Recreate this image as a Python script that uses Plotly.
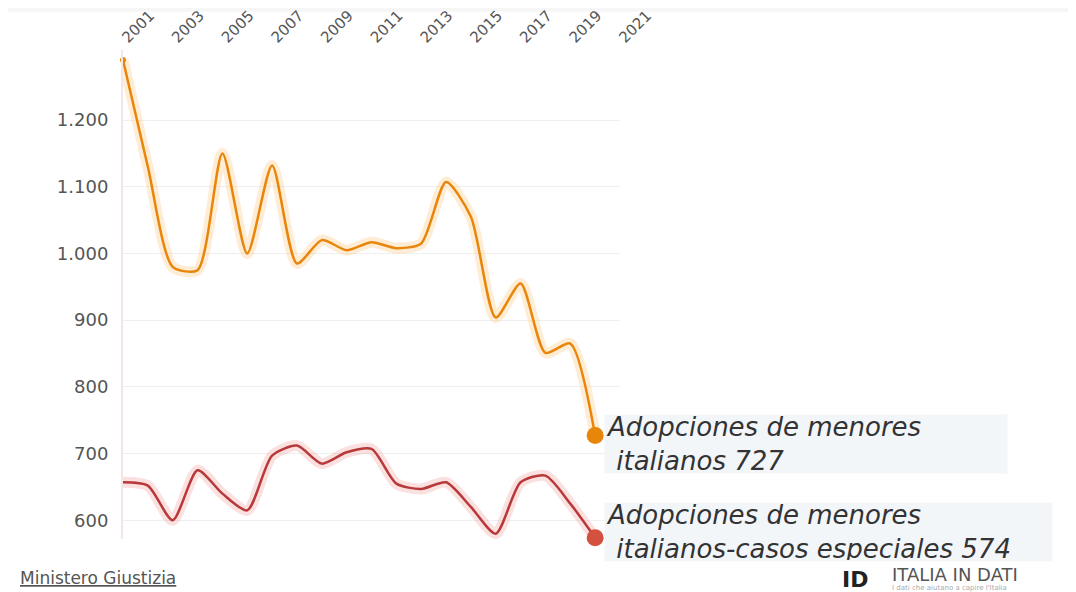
import plotly.graph_objects as go

years = list(range(2001, 2021))
adopciones = [1290, 1130, 980, 975, 1150, 1000, 1132, 985, 1020, 1005, 1017, 1008,
              1015, 1107, 1055, 904, 955, 851, 865, 727]
especiales = [657, 652, 600, 675, 640, 615, 697, 712, 685, 702, 707, 655,
              647, 657, 620, 580, 657, 667, 625, 574]
tick_years = list(range(2001, 2022, 2))
y_ticks = [600, 700, 800, 900, 1000, 1100, 1200]

name_a = "Adopciones de menores<br>&nbsp;italianos"
name_b = "Adopciones de menores<br>&nbsp;italianos-casos especiales"

orange = "#E8860C"
orange_glow = "rgba(255,195,120,0.32)"
red = "#B8393A"
red_glow = "rgba(240,145,145,0.28)"
red_dot = "#D4503F"

fig = go.Figure()

# glow
fig.add_trace(go.Scatter(x=years, y=adopciones, mode="lines",
                         line=dict(color=orange_glow, width=11, shape="spline", smoothing=0.7),
                         hoverinfo="skip", showlegend=False, cliponaxis=False))
fig.add_trace(go.Scatter(x=years, y=especiales, mode="lines",
                         line=dict(color=red_glow, width=11, shape="spline", smoothing=0.7),
                         hoverinfo="skip", showlegend=False, cliponaxis=False))
# main lines
fig.add_trace(go.Scatter(x=years, y=adopciones, mode="lines",
                         line=dict(color=orange, width=2.5, shape="spline", smoothing=0.7),
                         showlegend=False, cliponaxis=False))
fig.add_trace(go.Scatter(x=years, y=especiales, mode="lines",
                         line=dict(color=red, width=2.5, shape="spline", smoothing=0.7),
                         showlegend=False, cliponaxis=False))
# start dot
fig.add_trace(go.Scatter(x=years[:1], y=adopciones[:1], mode="markers",
                         marker=dict(color=orange, size=6), showlegend=False, cliponaxis=False))
# end dots
fig.add_trace(go.Scatter(x=years[-1:], y=adopciones[-1:], mode="markers",
                         marker=dict(color=orange, size=17), showlegend=False, cliponaxis=False))
fig.add_trace(go.Scatter(x=years[-1:], y=especiales[-1:], mode="markers",
                         marker=dict(color=red_dot, size=17), showlegend=False, cliponaxis=False))

label_font = dict(family="DejaVu Sans", size=26, color="#333333")
fig.add_annotation(x=years[-1], y=adopciones[-1], xref="x", yref="y",
                   text=f"<i>{name_a} {adopciones[-1]}</i>",
                   showarrow=False, xanchor="left", yanchor="middle", align="left",
                   xshift=9, yshift=-8, width=400, height=56,
                   bgcolor="#F3F6F9", font=label_font)
fig.add_annotation(x=years[-1], y=especiales[-1], xref="x", yref="y",
                   text=f"<i>{name_b} {especiales[-1]}</i>",
                   showarrow=False, xanchor="left", yanchor="middle", align="left",
                   xshift=9, yshift=6, width=445, height=56,
                   bgcolor="#F3F6F9", font=label_font)

# source
fig.add_annotation(xref="paper", yref="paper", x=-0.2113, y=-0.0804, xanchor="left", yanchor="middle",
                   text="<u>Ministero Giustizia</u>", showarrow=False,
                   font=dict(family="DejaVu Sans", size=17, color="#555555"))
# logo
fig.add_annotation(xref="paper", yref="paper", x=1.4427, y=-0.0825, xanchor="left", yanchor="middle",
                   text="<b>ID</b>", showarrow=False,
                   font=dict(family="DejaVu Sans", size=22, color="#222222"))
fig.add_annotation(xref="paper", yref="paper", x=1.543, y=-0.0720, xanchor="left", yanchor="middle",
                   text="ITALIA IN DATI", showarrow=False,
                   font=dict(family="DejaVu Sans", size=18, color="#555555"))
fig.add_annotation(xref="paper", yref="paper", x=1.543, y=-0.0995, xanchor="left", yanchor="middle",
                   text="I dati che aiutano a capire l'Italia", showarrow=False,
                   font=dict(family="DejaVu Sans", size=7, color="#AAAAAA"))

fig.update_layout(
    width=1068, height=584,
    margin=dict(l=115, r=456, t=42, b=53.3),
    paper_bgcolor="white", plot_bgcolor="white",
    separators=",.",
    showlegend=False,
    xaxis=dict(side="top", range=[2001, 2021], tickvals=tick_years,
               ticktext=[str(y) for y in tick_years], tickangle=-45,
               showgrid=False, zeroline=False, showline=False, automargin=False,
               tickfont=dict(family="DejaVu Sans", size=15, color="#555555")),
    yaxis=dict(range=[572, 1305], tickvals=y_ticks, tickformat=",d",
               showgrid=True, gridcolor="#EFEFEF", gridwidth=1, automargin=False,
               zeroline=False, showline=True, linecolor="#F3E6E6", linewidth=2,
               ticks="", ticklabelstandoff=9,
               tickfont=dict(family="DejaVu Sans", size=18, color="#555555")),
)
fig.add_shape(type="rect", xref="paper", yref="paper", x0=-0.3, x1=1.95, y0=1.078, y1=1.11,
              fillcolor="#F6F6F6", line_width=0, layer="below")

fig.write_html("out.html")
